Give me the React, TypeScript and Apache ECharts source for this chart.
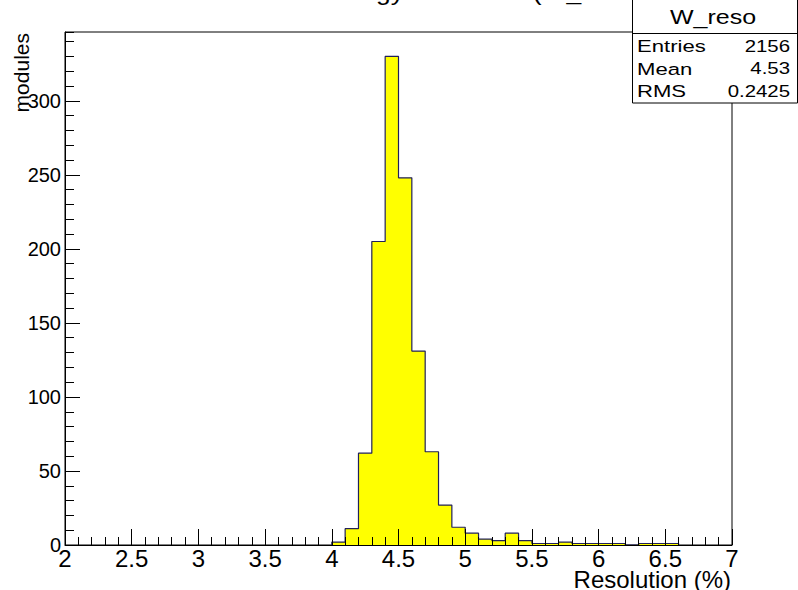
import React, { useEffect, useRef } from "react";
import * as echarts from "echarts";

// Histogram: 50 bins of width 0.1 from 2.0 to 7.0
const binMin = 2.0;
const binWidth = 0.1;
const counts = [
  0, 0, 0, 0, 0, 0, 0, 0, 0, 0,
  0, 0, 0, 0, 0, 0, 0, 0, 0, 0,
  2, 11, 62, 205, 330, 248, 131, 63, 27, 12,
  8, 4, 3, 8, 3, 1, 1, 2, 1, 1,
  1, 1, 0, 1, 1, 1, 0, 0, 0, 0,
];
const xTickLabels = ["2", "2.5", "3", "3.5", "4", "4.5", "5", "5.5", "6", "6.5", "7"];
const statsName = "W_reso";
const statsLabels = ["Entries", "Mean", "RMS"];
const statsValues = ["2156", "4.53", "0.2425"];
const titleText = "Measured module energy resolution (W_reso)";
const xTitle = "Resolution (%)";
const yTitle = "modules";

const FONT = "'Liberation Sans', Arial, Helvetica, sans-serif";

export default function App() {
  const ref = useRef<HTMLDivElement>(null);
  useEffect(() => {
    if (!ref.current) return;
    const chart = echarts.init(ref.current, undefined, { renderer: "svg" });

    const first = counts.findIndex((c) => c > 0);
    let last = counts.length - 1;
    while (last > 0 && counts[last] === 0) last--;
    const stepData: number[][] = [];
    stepData.push([+(binMin + first * binWidth).toFixed(2), 0]);
    for (let i = first; i <= last; i++) {
      stepData.push([+(binMin + i * binWidth).toFixed(2), counts[i]]);
    }
    stepData.push([+(binMin + (last + 1) * binWidth).toFixed(2), 0]);

    const xMin = parseFloat(xTickLabels[0]);
    const xMax = parseFloat(xTickLabels[xTickLabels.length - 1]);
    const yMax = 346.5;

    chart.setOption({
      animation: false,
      textStyle: { fontFamily: FONT },
      grid: {
        left: 65,
        top: 32,
        width: 667,
        height: 513,
        show: true,
        borderColor: "#000",
        borderWidth: 1,
        backgroundColor: "#fff",
      },
      xAxis: {
        type: "value",
        min: xMin,
        max: xMax,
        interval: 0.5,
        z: 5,
        axisLine: { show: true, lineStyle: { color: "#000", width: 1 } },
        axisTick: { show: true, inside: true, length: 16, lineStyle: { color: "#000" } },
        minorTick: { show: true, splitNumber: 5, length: 8, lineStyle: { color: "#000" } },
        splitLine: { show: false },
        minorSplitLine: { show: false },
        axisLabel: {
          color: "#000",
          fontSize: 24,
          fontFamily: FONT,
          margin: 1,
          formatter: (v: number) => String(Math.round(v * 10) / 10),
        },
      },
      yAxis: [
        {
          type: "value",
          position: "left",
          min: 0,
          max: yMax,
          interval: 10,
          z: 5,
          axisLine: { show: true, lineStyle: { color: "#000", width: 1 } },
          axisTick: { show: true, inside: true, length: 9, lineStyle: { color: "#000" } },
          axisLabel: { show: false },
          splitLine: { show: false },
        },
        {
          type: "value",
          position: "left",
          offset: 0,
          min: 0,
          max: yMax,
          interval: 50,
          z: 5,
          axisLine: { show: false },
          axisTick: { show: true, inside: true, length: 15, lineStyle: { color: "#000" } },
          axisLabel: {
            color: "#000",
            fontSize: 20,
            fontFamily: FONT,
            margin: 4,
            showMaxLabel: false,
          },
          splitLine: { show: false },
        },
      ],
      series: [
        {
          type: "line",
          yAxisIndex: 0,
          step: "end",
          data: stepData,
          symbol: "none",
          lineStyle: { color: "#20205a", width: 1.2 },
          areaStyle: { color: "#ffff00", opacity: 1 },
          z: 2,
        },
      ],
      graphic: [
        {
          type: "text",
          x: 373,
          y: 3,
          scaleX: 1.2,
          style: {
            text: titleText,
            font: `22px ${FONT}`,
            fill: "#000",
            align: "center",
            verticalAlign: "bottom",
          },
        },
        {
          type: "text",
          x: 21,
          y: 33,
          rotation: Math.PI / 2,
          style: {
            text: yTitle,
            font: `21px ${FONT}`,
            fill: "#000",
            align: "right",
            verticalAlign: "middle",
          },
        },
        {
          type: "text",
          x: 731,
          y: 579,
          style: {
            text: xTitle,
            font: `24px ${FONT}`,
            fill: "#000",
            align: "right",
            verticalAlign: "middle",
          },
        },
        {
          type: "rect",
          z: 20,
          shape: { x: 632.5, y: -1, width: 165, height: 104 },
          style: { fill: "#fff", stroke: "#000", lineWidth: 1 },
        },
        {
          type: "line",
          z: 21,
          shape: { x1: 632.5, y1: 33.5, x2: 797.5, y2: 33.5 },
          style: { stroke: "#000", lineWidth: 1 },
        },
        {
          type: "text",
          z: 21,
          x: 713,
          y: 17,
          scaleX: 1.25,
          style: {
            text: statsName,
            font: `20px ${FONT}`,
            fill: "#000",
            align: "center",
            verticalAlign: "middle",
          },
        },
        ...statsLabels.map((lab, i) => ({
          type: "text",
          z: 21,
          x: 637,
          y: 46 + i * 22.5,
          scaleX: 1.3,
          style: {
            text: lab,
            font: `17px ${FONT}`,
            fill: "#000",
            align: "left",
            verticalAlign: "middle",
          },
        })),
        ...statsValues.map((val, i) => ({
          type: "text",
          z: 21,
          x: 790,
          y: 46 + i * 22.5,
          scaleX: 1.2,
          style: {
            text: val,
            font: `17px ${FONT}`,
            fill: "#000",
            align: "right",
            verticalAlign: "middle",
          },
        })),
      ],
    });
    return () => chart.dispose();
  }, []);
  return <div ref={ref} style={{ width: 798, height: 590, position: "absolute", left: 0, top: 0 }} />;
}
